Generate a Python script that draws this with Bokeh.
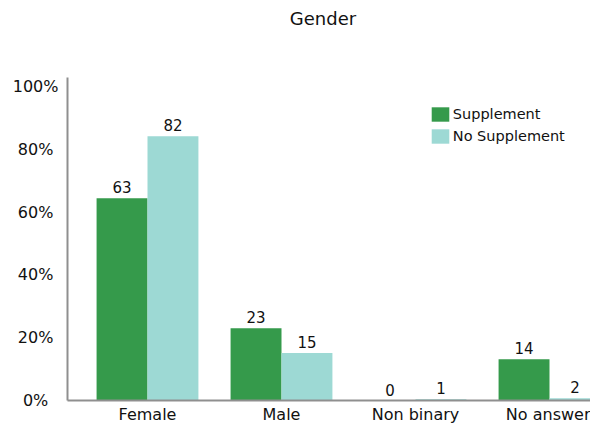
import numpy as np
from bokeh.plotting import figure
from bokeh.models import (ColumnDataSource, FixedTicker, Range1d, LabelSet, Label,
                          Legend, LegendItem)
from bokeh.core.properties import value
from bokeh.embed import file_html
from bokeh.resources import INLINE

categories = ["Female", "Male", "Non binary", "No answer"]
supp_pct = [64.4, 23.0, 0.0, 13.1]
nosupp_pct = [84.2, 15.1, 0.4, 0.7]
supp_labels = ["63", "23", "0", "14"]
nosupp_labels = ["82", "15", "1", "2"]
y_ticks = [0, 20, 40, 60, 80, 100]
title_text = "Gender"

FONT = "DejaVu Sans"
GREEN = "#359a4b"
TEAL = "#9dd9d4"
AXIS = "#8f8f8f"
BW = 0.38
NBSP = "\u00a0"
Y_AXIS_TOP = 102.9      # where the drawn y axis line ends
Y_VIEW_TOP = 127.4      # frame extends to the top of the page (room for title)

idx = np.arange(len(categories))
src_s = ColumnDataSource(dict(x=idx - BW / 2, top=supp_pct, lab=supp_labels))
src_n = ColumnDataSource(dict(x=idx + BW / 2, top=nosupp_pct, lab=nosupp_labels))

p = figure(width=590, height=426, output_backend="svg", toolbar_location=None,
           x_range=Range1d(-0.597, 3.306), y_range=Range1d(0, Y_VIEW_TOP),
           min_border_left=67, min_border_right=0, min_border_top=0,
           min_border_bottom=26, background_fill_color="white",
           border_fill_color="white", outline_line_color=None)

r1 = p.vbar(x="x", top="top", bottom=0, width=BW, source=src_s,
            fill_color=GREEN, line_color=None)
r2 = p.vbar(x="x", top="top", bottom=0, width=BW, source=src_n,
            fill_color=TEAL, line_color=None)

for src in (src_s, src_n):
    p.add_layout(LabelSet(x="x", y="top", text="lab", source=src, y_offset=5,
                          text_align="center", text_baseline="alphabetic",
                          text_font=value(FONT), text_font_size=value("15px"),
                          text_color="#111111"))

p.grid.visible = False

p.xaxis.ticker = FixedTicker(ticks=list(idx))
p.xaxis.major_label_overrides = {int(i): c for i, c in zip(idx, categories)}
p.yaxis.ticker = FixedTicker(ticks=y_ticks)
p.yaxis.bounds = (0, Y_AXIS_TOP)
# y labels are centred in the reference: pad shorter ones so they centre
p.yaxis.major_label_overrides = {
    t: f"{t}%" + NBSP * ((4 - len(f"{t}%")) if t != 100 else 0) for t in y_ticks
}

for ax in (p.xaxis, p.yaxis):
    ax.axis_line_color = AXIS
    ax.axis_line_width = 2
    ax.major_tick_line_color = None
    ax.minor_tick_line_color = None
    ax.major_tick_out = 0
    ax.major_tick_in = 0
    ax.major_label_text_font = FONT
    ax.major_label_text_font_size = "16px"
    ax.major_label_text_color = "#111111"
p.xaxis.major_label_standoff = 4
p.yaxis.major_label_standoff = 9

legend = Legend(items=[LegendItem(label="Supplement", renderers=[r1]),
                       LegendItem(label="No Supplement", renderers=[r2])],
                location=(361.8, 254.8), orientation="vertical",
                glyph_width=22, glyph_height=18, label_height=18,
                spacing=4, padding=0, margin=0, label_standoff=2,
                label_text_font=FONT, label_text_font_size="14.5px",
                label_text_color="#111111",
                border_line_color=None, background_fill_alpha=0)
p.add_layout(legend)

p.add_layout(Label(x=255.5, y=382, x_units="screen", y_units="screen",
                   text=title_text, text_align="center", text_baseline="middle",
                   text_font=FONT, text_font_size="18px", text_color="#111111"))

open("out.html", "w").write(file_html(p, INLINE))
